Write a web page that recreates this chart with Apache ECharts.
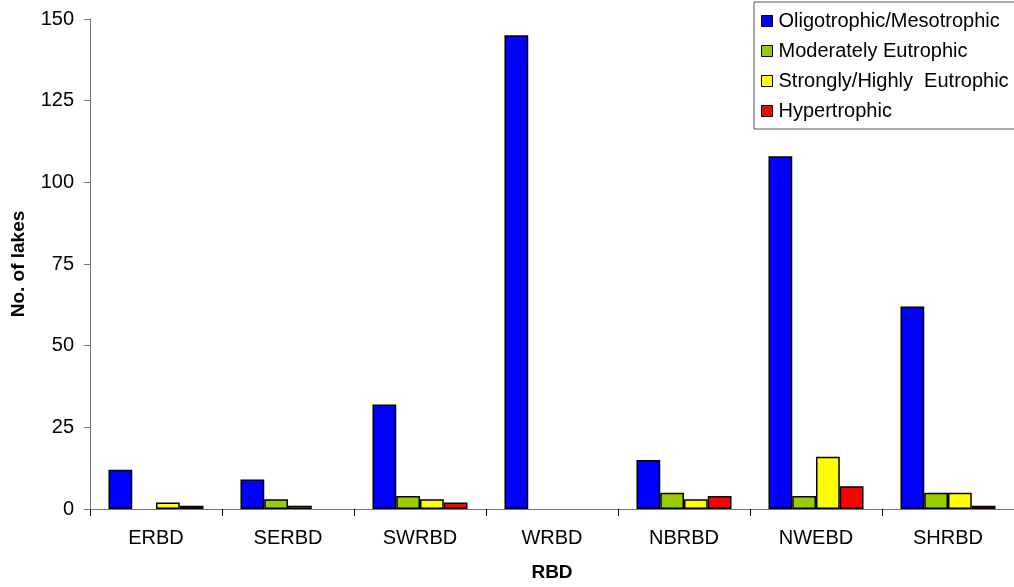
<!DOCTYPE html>
<html><head><meta charset="utf-8">
<script src="https://cdn.jsdelivr.net/npm/echarts@6/dist/echarts.min.js"></script>
<style>html,body{margin:0;padding:0;background:#fff}#c{width:1014px;height:587px}</style>
</head><body><div id="c"></div>
<script>
const categories = ['ERBD','SERBD','SWRBD','WRBD','NBRBD','NWEBD','SHRBD'];
const seriesNames = ['Oligotrophic/Mesotrophic','Moderately Eutrophic','Strongly/Highly  Eutrophic','Hypertrophic'];
const oligo = [12, 9, 32, 145, 15, 108, 62];
const moderate = [0, 3, 4, 0, 5, 4, 5];
const strongly = [2, 1, 3, 0, 3, 16, 5];
const hyper = [1, 0, 2, 0, 4, 7, 1];
const yTicks = [0, 25, 50, 75, 100, 125, 150];
const colors = ['#0000ff','#99cc00','#ffff00','#ff0000'];

const chart = echarts.init(document.getElementById('c'));
const font = 'Liberation Sans, Arial, sans-serif';
const data = [oligo, moderate, strongly, hyper];
chart.setOption({
  animation: false,
  textStyle: {fontFamily: font},
  grid: {left: 90, right: 0, top: 19, bottom: 73, containLabel: false},
  legend: {
    show: true, orient: 'vertical', left: 754, top: 2,
    itemWidth: 11, itemHeight: 11, itemGap: 10,
    padding: [9, 60, 8, 7],
    borderColor: '#555', borderWidth: 1,
    textStyle: {fontFamily: font, fontSize: 20, color: '#000', padding: [0,0,0,1]},
    icon: 'rect',
    itemStyle: {borderColor: '#000', borderWidth: 1},
    data: seriesNames
  },
  xAxis: {
    type: 'category', data: categories,
    name: 'RBD', nameLocation: 'middle', nameGap: 54,
    nameTextStyle: {fontFamily: font, fontWeight: 'bold', fontSize: 19, color: '#000'},
    axisLine: {lineStyle: {color: '#777'}},
    axisTick: {show: true, alignWithLabel: false, length: 7, lineStyle: {color: '#000'}},
    axisLabel: {fontFamily: font, fontSize: 20, color: '#000', margin: 19}
  },
  yAxis: {
    type: 'value', min: 0, max: 150, interval: 25,
    name: 'No. of lakes', nameLocation: 'middle', nameGap: 62,
    nameTextStyle: {fontFamily: font, fontWeight: 'bold', fontSize: 19, color: '#000'},
    axisLine: {show: true, lineStyle: {color: '#777'}},
    axisTick: {show: true, length: 6, lineStyle: {color: '#777'}},
    splitLine: {show: false},
    axisLabel: {fontFamily: font, fontSize: 20, color: '#000', margin: 16,
      formatter: v => yTicks.includes(v) ? String(v) : ''}
  },
  series: seriesNames.map((n, i) => ({
    name: n, type: 'bar', data: data[i].map(v => v === 0 ? '-' : v),
    barGap: '0%', barCategoryGap: '28%',
    itemStyle: {color: colors[i], borderColor: '#000', borderWidth: 1.5}
  }))
});
</script></body></html>
